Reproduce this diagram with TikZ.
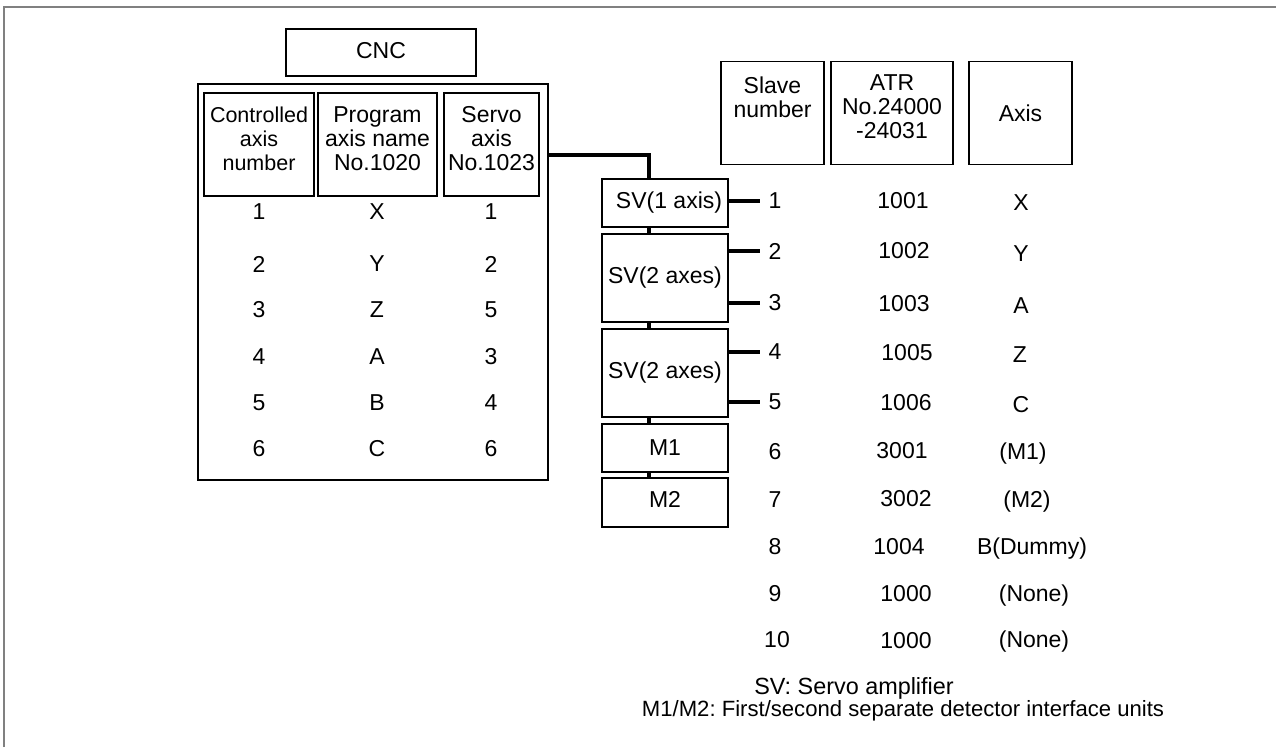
\documentclass[tikz,border=0pt]{standalone}
\usepackage{fontspec}
\setmainfont{Liberation Sans}
\usetikzlibrary{positioning, calc}
\definecolor{frameGray}{RGB}{128,128,128}
\frenchspacing

\begin{document}
\begin{tikzpicture}[
      x=1pt, y=-1pt,
      box/.style={rectangle, draw=black, line width=1.5pt, inner sep=0pt, align=center, font=\fontsize{23}{24}\selectfont},
      unit/.style={box, minimum width=126pt, minimum height=48pt},
      head/.style={box, minimum height=103pt},
      cell/.style={inner sep=0pt, align=center, font=\fontsize{23}{24}\selectfont},
      link/.style={line width=3.2pt, black},
      every node/.style={font=\fontsize{23}{24}\selectfont}
  ]
      \useasboundingbox (0,0) rectangle (1276,747);
      \draw[frameGray, line width=1.3pt] (4,747) -- (4,7) -- (1276,7);
      % CNC side
      \node[box, minimum width=190pt, minimum height=47pt] (cnc) at (381,52.5) {\raisebox{4pt}{CNC}};
      \node[box, minimum width=350pt, minimum height=396pt] (tbl) at (373,282) {};
      \node[head, minimum width=110pt] (hCtl) at (259,144.5) {};
      \node[head, minimum width=119pt] (hPrg) at (377.5,144.5) {};
      \node[head, minimum width=95pt] (hSrv) at (491.5,144.5) {};
      \node[cell, font=\fontsize{21.5}{24}\selectfont] (tCtl) at (259,139) {Controlled\\axis\\number};
      \node[cell] (tPrg) at (377.5,139) {Program\\axis name\\No.1020};
      \node[cell] (tSrv) at (491.5,139) {Servo\\axis\\No.1023};
      \node[cell] (c1) at (259,212) {1};  \node[cell] (p1) at (377,212) {X}; \node[cell] (s1) at (491,212) {1};
      \node[cell] (c2) at (259,264) {2};  \node[cell] (p2) at (377,264) {Y}; \node[cell] (s2) at (491,264) {2};
      \node[cell] (c3) at (259,310) {3};  \node[cell] (p3) at (377,310) {Z}; \node[cell] (s3) at (491,310) {5};
      \node[cell] (c4) at (259,357) {4};  \node[cell] (p4) at (377,357) {A}; \node[cell] (s4) at (491,357) {3};
      \node[cell] (c5) at (259,403) {5};  \node[cell] (p5) at (377,403) {B}; \node[cell] (s5) at (491,403) {4};
      \node[cell] (c6) at (259,449) {6};  \node[cell] (p6) at (377,449) {C}; \node[cell] (s6) at (491,449) {6};
      % amplifier chain
      \coordinate (bus) at (649,155);
      \node[unit] (sv1) at (665,203) {\hspace{8pt}SV(1 axis)};
      \node[unit, minimum height=88pt] (sv2) at (665,278) {SV(2 axes)};
      \node[unit, minimum height=88pt] (sv3) at (665,373) {SV(2 axes)};
      \node[unit] (m1) at (665,448) {M1};
      \node[unit, minimum height=49pt] (m2) at (665,502.5) {\raisebox{6pt}{M2}};
      % slave side
      \node[head, minimum width=103pt] (hSlv) at (772.5,113) {};
      \node[cell] (tSlv) at (772.5,97) {Slave\\number};
      \node[head, minimum width=122pt] (hAtr) at (892,113) {};
      \node[cell] (tAtr) at (892,107) {ATR\\No.24000\\-24031};
      \node[head, minimum width=103pt] (hAxs) at (1020.5,113) {Axis};
      \node[cell] (n1) at (775,201) {1};   \node[cell] (a1) at (903,201) {1001}; \node[cell] (x1) at (1021,203) {X};
      \node[cell] (n2) at (775,251) {2};   \node[cell] (a2) at (904,251) {1002}; \node[cell] (x2) at (1021,254) {Y};
      \node[cell] (n3) at (775,303) {3};   \node[cell] (a3) at (904,304) {1003}; \node[cell] (x3) at (1021,306) {A};
      \node[cell] (n4) at (775,352) {4};   \node[cell] (a4) at (907,353) {1005}; \node[cell] (x4) at (1020,355) {Z};
      \node[cell] (n5) at (775,402) {5};   \node[cell] (a5) at (906,403) {1006}; \node[cell] (x5) at (1021,405) {C};
      \node[cell] (n6) at (775,452) {6};   \node[cell] (a6) at (902,451) {3001}; \node[cell] (x6) at (1023,454) {(M1)};
      \node[cell] (n7) at (775,500) {7};   \node[cell] (a7) at (906,499) {3002}; \node[cell] (x7) at (1027,502) {(M2)};
      \node[cell] (n8) at (775,547) {8};   \node[cell] (a8) at (899,547) {1004}; \node[cell] (x8) at (1032,549) {B(Dummy)};
      \node[cell] (n9) at (775,594) {9};   \node[cell] (a9) at (906,594) {1000}; \node[cell] (x9) at (1034,596) {(None)};
      \node[cell] (n10) at (777,640) {10}; \node[cell] (a10) at (906,641) {1000}; \node[cell] (x10) at (1034,642) {(None)};
      \node[cell, font=\fontsize{23.4}{24}\selectfont] (foot1) at (854,688) {SV: Servo amplifier};
      \node[cell, font=\fontsize{22.1}{24}\selectfont] (foot2) at (903,711) {M1/M2: First/second separate detector interface units};
      \draw[link] (tbl.east |- bus) -- (bus) -- (sv1.north -| bus);
      \draw[link] (sv1.south -| bus) -- (sv2.north -| bus);
      \draw[link] (sv2.south -| bus) -- (sv3.north -| bus);
      \draw[link] (sv3.south -| bus) -- (m1.north -| bus);
      \draw[link] (m1.south -| bus) -- (m2.north -| bus);
      \draw[link] (sv1.east |- n1) -- ([xshift=-8pt]n1.west);
      \draw[link] (sv2.east |- n2) -- ([xshift=-8pt]n2.west);
      \draw[link] (sv2.east |- n3) -- ([xshift=-8pt]n3.west);
      \draw[link] (sv3.east |- n4) -- ([xshift=-8pt]n4.west);
      \draw[link] (sv3.east |- n5) -- ([xshift=-8pt]n5.west);
  \end{tikzpicture}
\end{document}
